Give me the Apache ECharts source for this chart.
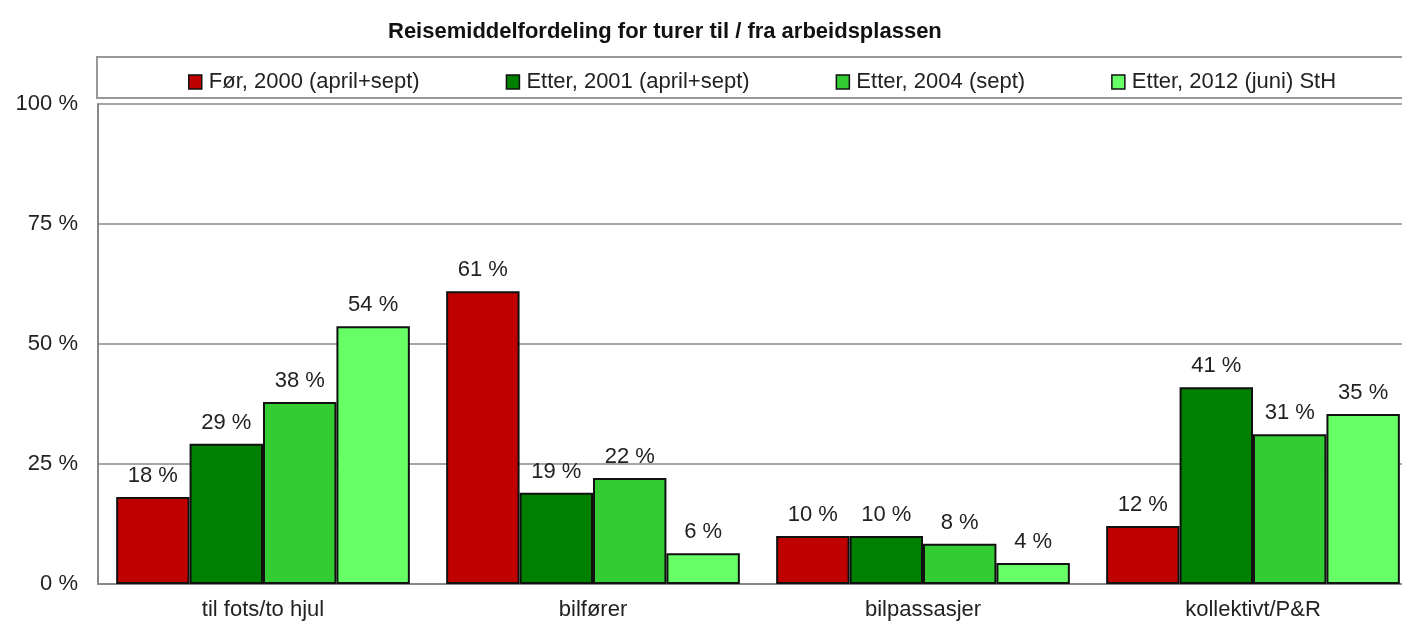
<!DOCTYPE html>
<html>
<head>
<meta charset="utf-8">
<script src="https://cdn.jsdelivr.net/npm/echarts@6/dist/echarts.min.js"></script>
<style>
  html, body { margin: 0; padding: 0; background: #fff; overflow: hidden; }
  #main { width: 1420px; height: 631px; }
</style>
</head>
<body>
<div id="main"></div>
<script>
/* Reisemiddelfordeling - data */
var categories = ['til fots/to hjul', 'bilfører', 'bilpassasjer', 'kollektivt/P&R'];
var seriesNames = ['Før, 2000 (april+sept)', 'Etter, 2001 (april+sept)', 'Etter, 2004 (sept)', 'Etter, 2012 (juni) StH'];
var for2000 = [18.1, 61.0, 10.0, 12.1];
var etter2001 = [29.2, 19.0, 10.0, 41.0];
var etter2004 = [37.9, 22.1, 8.4, 31.2];
var etter2012 = [53.7, 6.4, 4.4, 35.4];
var yTicks = [0, 25, 50, 75, 100];

var colors = ['#c00000', '#008000', '#33cc33', '#66ff66'];
var FONT = '"Liberation Sans", Arial, sans-serif';

// 图表容器比窗口略宽，右边超出部分被裁掉（与原图一致）
var myChart = echarts.init(document.getElementById('main'));

// 构建系列
var seriesData = [for2000, etter2001, etter2004, etter2012];
var series = seriesData.map(function (vals, i) {
  return {
    name: seriesNames[i],
    type: 'bar',
    data: vals,
    barGap: '0%',
    barCategoryGap: '11%',
    itemStyle: { color: colors[i], borderColor: '#111', borderWidth: 2 },
    label: {
      show: true,
      position: 'top',
      distance: 10,
      color: '#222',
      fontFamily: FONT,
      fontSize: 22,
      formatter: function (p) { return Math.round(p.value) + ' %'; }
    }
  };
});

var option = {
  animation: false,
  backgroundColor: '#fff',
  title: {
    text: 'Reisemiddelfordeling for turer til / fra arbeidsplassen',
    left: 383,
    top: 16,
    textStyle: { fontFamily: FONT, fontSize: 22, fontWeight: 'bold', color: '#111' }
  },
  graphic: [{
    type: 'rect',
    shape: { x: 97, y: 57, width: 1420, height: 41 },
    style: { fill: 'none', stroke: '#999', lineWidth: 2 },
    z: 0
  }],
  legend: {
    left: 183,
    top: 66,
    width: 1300,
    itemWidth: 13,
    itemHeight: 14,
    itemGap: 86,
    icon: 'rect',
    itemStyle: { borderColor: '#111', borderWidth: 1.5 },
    textStyle: { fontFamily: FONT, fontSize: 22, color: '#222', padding: [0, 0, 0, 2] },
    data: seriesNames
  },
  grid: { left: 98, right: 2, top: 104, bottom: 47 },
  xAxis: {
    type: 'category',
    data: categories,
    axisLine: { lineStyle: { color: '#888', width: 2 } },
    axisTick: { show: false },
    axisLabel: { fontFamily: FONT, fontSize: 22, color: '#222', margin: 15 }
  },
  yAxis: {
    type: 'value',
    min: yTicks[0],
    max: yTicks[yTicks.length - 1],
    interval: 25,
    axisLine: { show: true, lineStyle: { color: '#888', width: 2 } },
    axisTick: { show: false },
    splitLine: { lineStyle: { color: '#888', width: 1.5 } },
    axisLabel: {
      fontFamily: FONT, fontSize: 22, color: '#222', margin: 20,
      formatter: function (v) { return v + ' %'; }
    }
  },
  series: series
};
myChart.setOption(option);
</script>
</body>
</html>
